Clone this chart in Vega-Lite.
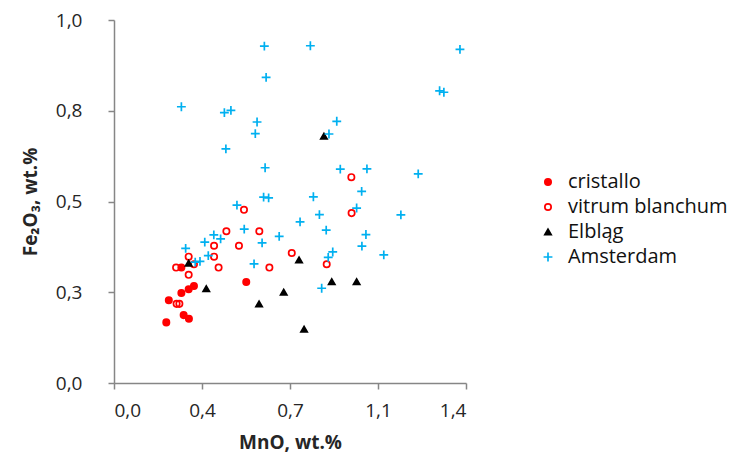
{
  "$schema": "https://vega.github.io/schema/vega-lite/v6.json",
  "width": 352,
  "height": 363,
  "autosize": {"type": "none"},
  "padding": {"left": 114, "top": 20, "right": 271, "bottom": 79},
  "background": "white",
  "config": {
    "view": {"stroke": null},
    "font": "Open Sans",
    "axis": {
      "grid": false,
      "domainColor": "#868686",
      "domainWidth": 1.5,
      "tickColor": "#868686",
      "tickWidth": 1.5,
      "tickSize": 6,
      "labelFont": "Open Sans",
      "labelFontSize": 19,
      "labelColor": "#262626",
      "titleFont": "Open Sans",
      "titleFontSize": 19,
      "titleFontWeight": "bold",
      "titleColor": "#262626"
    },
    "legend": {
      "labelFont": "Open Sans",
      "labelFontSize": 20,
      "labelColor": "#111111"
    }
  },
  "data": {
    "values": [
      {"s": "cristallo", "mno": 0.268, "fe": 0.318},
      {"s": "cristallo", "mno": 0.526, "fe": 0.278},
      {"s": "cristallo", "mno": 0.318, "fe": 0.267},
      {"s": "cristallo", "mno": 0.297, "fe": 0.258},
      {"s": "cristallo", "mno": 0.268, "fe": 0.248},
      {"s": "cristallo", "mno": 0.218, "fe": 0.228},
      {"s": "cristallo", "mno": 0.277, "fe": 0.187},
      {"s": "cristallo", "mno": 0.298, "fe": 0.177},
      {"s": "cristallo", "mno": 0.208, "fe": 0.167},
      {"s": "vitrum blanchum", "mno": 0.517, "fe": 0.477},
      {"s": "vitrum blanchum", "mno": 0.944, "fe": 0.567},
      {"s": "vitrum blanchum", "mno": 0.945, "fe": 0.468},
      {"s": "vitrum blanchum", "mno": 0.447, "fe": 0.418},
      {"s": "vitrum blanchum", "mno": 0.578, "fe": 0.418},
      {"s": "vitrum blanchum", "mno": 0.398, "fe": 0.378},
      {"s": "vitrum blanchum", "mno": 0.497, "fe": 0.378},
      {"s": "vitrum blanchum", "mno": 0.707, "fe": 0.358},
      {"s": "vitrum blanchum", "mno": 0.297, "fe": 0.348},
      {"s": "vitrum blanchum", "mno": 0.398, "fe": 0.348},
      {"s": "vitrum blanchum", "mno": 0.318, "fe": 0.327},
      {"s": "vitrum blanchum", "mno": 0.247, "fe": 0.318},
      {"s": "vitrum blanchum", "mno": 0.416, "fe": 0.318},
      {"s": "vitrum blanchum", "mno": 0.618, "fe": 0.318},
      {"s": "vitrum blanchum", "mno": 0.297, "fe": 0.298},
      {"s": "vitrum blanchum", "mno": 0.249, "fe": 0.218},
      {"s": "vitrum blanchum", "mno": 0.260, "fe": 0.218},
      {"s": "vitrum blanchum", "mno": 0.846, "fe": 0.327},
      {"s": "Elbląg", "mno": 0.835, "fe": 0.680},
      {"s": "Elbląg", "mno": 0.297, "fe": 0.330},
      {"s": "Elbląg", "mno": 0.367, "fe": 0.260},
      {"s": "Elbląg", "mno": 0.577, "fe": 0.218},
      {"s": "Elbląg", "mno": 0.675, "fe": 0.250},
      {"s": "Elbląg", "mno": 0.736, "fe": 0.339},
      {"s": "Elbląg", "mno": 0.866, "fe": 0.279},
      {"s": "Elbląg", "mno": 0.965, "fe": 0.279},
      {"s": "Elbląg", "mno": 0.756, "fe": 0.148},
      {"s": "Amsterdam", "mno": 0.598, "fe": 0.928},
      {"s": "Amsterdam", "mno": 0.605, "fe": 0.842},
      {"s": "Amsterdam", "mno": 0.268, "fe": 0.761},
      {"s": "Amsterdam", "mno": 0.439, "fe": 0.745},
      {"s": "Amsterdam", "mno": 0.465, "fe": 0.751},
      {"s": "Amsterdam", "mno": 0.569, "fe": 0.719},
      {"s": "Amsterdam", "mno": 0.562, "fe": 0.687},
      {"s": "Amsterdam", "mno": 0.445, "fe": 0.645},
      {"s": "Amsterdam", "mno": 0.601, "fe": 0.593},
      {"s": "Amsterdam", "mno": 0.595, "fe": 0.512},
      {"s": "Amsterdam", "mno": 0.615, "fe": 0.510},
      {"s": "Amsterdam", "mno": 0.489, "fe": 0.490},
      {"s": "Amsterdam", "mno": 0.781, "fe": 0.929},
      {"s": "Amsterdam", "mno": 1.376, "fe": 0.919},
      {"s": "Amsterdam", "mno": 1.295, "fe": 0.805},
      {"s": "Amsterdam", "mno": 1.312, "fe": 0.801},
      {"s": "Amsterdam", "mno": 0.886, "fe": 0.721},
      {"s": "Amsterdam", "mno": 0.855, "fe": 0.686},
      {"s": "Amsterdam", "mno": 0.900, "fe": 0.589},
      {"s": "Amsterdam", "mno": 1.006, "fe": 0.590},
      {"s": "Amsterdam", "mno": 1.210, "fe": 0.576},
      {"s": "Amsterdam", "mno": 0.985, "fe": 0.528},
      {"s": "Amsterdam", "mno": 0.793, "fe": 0.513},
      {"s": "Amsterdam", "mno": 0.965, "fe": 0.482},
      {"s": "Amsterdam", "mno": 0.817, "fe": 0.464},
      {"s": "Amsterdam", "mno": 1.141, "fe": 0.463},
      {"s": "Amsterdam", "mno": 0.740, "fe": 0.444},
      {"s": "Amsterdam", "mno": 0.844, "fe": 0.421},
      {"s": "Amsterdam", "mno": 1.002, "fe": 0.409},
      {"s": "Amsterdam", "mno": 0.986, "fe": 0.377},
      {"s": "Amsterdam", "mno": 0.518, "fe": 0.424},
      {"s": "Amsterdam", "mno": 0.397, "fe": 0.408},
      {"s": "Amsterdam", "mno": 0.424, "fe": 0.397},
      {"s": "Amsterdam", "mno": 0.361, "fe": 0.388},
      {"s": "Amsterdam", "mno": 0.589, "fe": 0.386},
      {"s": "Amsterdam", "mno": 0.657, "fe": 0.404},
      {"s": "Amsterdam", "mno": 0.285, "fe": 0.371},
      {"s": "Amsterdam", "mno": 0.375, "fe": 0.351},
      {"s": "Amsterdam", "mno": 0.342, "fe": 0.335},
      {"s": "Amsterdam", "mno": 0.323, "fe": 0.333},
      {"s": "Amsterdam", "mno": 0.557, "fe": 0.328},
      {"s": "Amsterdam", "mno": 0.870, "fe": 0.361},
      {"s": "Amsterdam", "mno": 0.852, "fe": 0.346},
      {"s": "Amsterdam", "mno": 1.073, "fe": 0.353},
      {"s": "Amsterdam", "mno": 0.826, "fe": 0.261}
    ]
  },
  "mark": {"type": "point", "size": 40, "strokeWidth": 1.7, "opacity": 1},
  "encoding": {
    "x": {
      "field": "mno",
      "type": "quantitative",
      "scale": {"domain": [0, 1.4], "nice": false, "zero": false},
      "axis": {
        "title": "MnO, wt.%",
        "values": [0, 0.35, 0.7, 1.05, 1.4],
        "labelExpr": "replace(format(datum.value + 0.000001, '.1f'), '.', ',')",
        "labelPadding": 12,
        "titlePadding": 13
      }
    },
    "y": {
      "field": "fe",
      "type": "quantitative",
      "scale": {"domain": [0, 1.0], "nice": false, "zero": false},
      "axis": {
        "title": "Fe₂O₃, wt.%",
        "values": [0, 0.25, 0.5, 0.75, 1.0],
        "labelExpr": "replace(format(datum.value + 0.000001, '.1f'), '.', ',')",
        "labelPadding": 26,
        "titlePadding": 15
      }
    },
    "shape": {
      "field": "s",
      "type": "nominal",
      "scale": {
        "domain": ["cristallo", "vitrum blanchum", "Elbląg", "Amsterdam"],
        "range": ["circle", "circle", "triangle-up", "M-1.4,0L1.4,0M0,-1.4L0,1.4"]
      },
      "legend": {
        "title": null,
        "orient": "none",
        "legendX": 424,
        "legendY": 152,
        "padding": 0,
        "rowPadding": 5,
        "labelOffset": 10,
        "symbolSize": 40,
        "symbolStrokeWidth": 1.7
      }
    },
    "fill": {
      "field": "s",
      "type": "nominal",
      "scale": {
        "domain": ["cristallo", "vitrum blanchum", "Elbląg", "Amsterdam"],
        "range": ["#FF0000", "transparent", "#000000", "transparent"]
      }
    },
    "stroke": {
      "field": "s",
      "type": "nominal",
      "scale": {
        "domain": ["cristallo", "vitrum blanchum", "Elbląg", "Amsterdam"],
        "range": ["#FF0000", "#FF0000", "#000000", "#00B0F0"]
      }
    }
  }
}
